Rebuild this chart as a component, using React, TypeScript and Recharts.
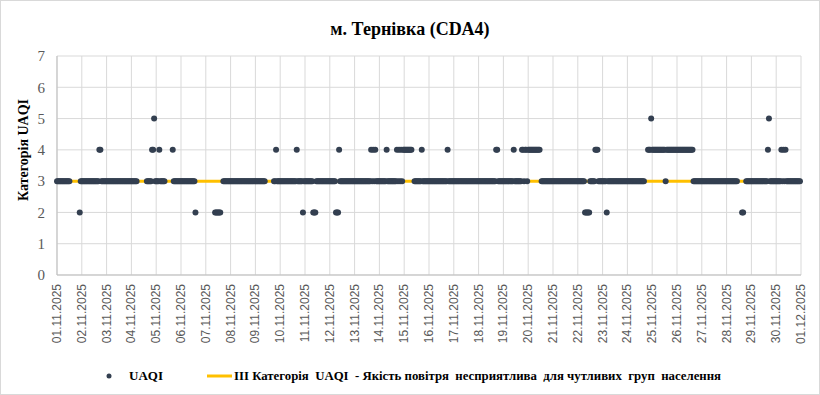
import { ScatterChart, Scatter, XAxis, YAxis, CartesianGrid } from 'recharts'

// hourly UAQI category, one string per day (24 chars), '.' = no reading
const dailyReadings = [
  '3333333333333.........23', // 01.11
  '333333333333333334433333',
  '333333333333333333333333',
  '333333.........333334453',
  '333433333.......43333333',
  '333333333333332.........',
  '.........222222..3333333',
  '333333333333333333333333',
  '3333333333........334333',
  '333333333333333343333323', // 10.11
  '333333332223333333333333',
  '333333222433333333333333',
  '333333333333333343434333',
  '333333343333333334343434',
  '44444444..33333334333333',
  '333333333333333333433333',
  '333333333333333333333333',
  '333333333333333334433333',
  '333333333343333333443443',
  '444444444444.33333333333', // 20.11
  '333333333333333333333333',
  '333333322222333334443333',
  '333323333333333333333333',
  '33333333333333333...4445',
  '444444444444434444444444',
  '444444444444444433333333',
  '333333333333333333333333',
  '33333333333....22..33333',
  '333333333333333345333333',
  '333334343433333333333333', // 30.11
]

const dateLabels = [
  '01.11.2025', '02.11.2025', '03.11.2025', '04.11.2025', '05.11.2025',
  '06.11.2025', '07.11.2025', '08.11.2025', '09.11.2025', '10.11.2025',
  '11.11.2025', '12.11.2025', '13.11.2025', '14.11.2025', '15.11.2025',
  '16.11.2025', '17.11.2025', '18.11.2025', '19.11.2025', '20.11.2025',
  '21.11.2025', '22.11.2025', '23.11.2025', '24.11.2025', '25.11.2025',
  '26.11.2025', '27.11.2025', '28.11.2025', '29.11.2025', '30.11.2025',
  '01.12.2025',
]

const yTicks = [0, 1, 2, 3, 4, 5, 6, 7]
const thresholdValue = 3
const thresholdHours = [0, 720]

const points = dailyReadings.flatMap((day, d) =>
  day
    .slice(0, 24)
    .split('')
    .map((c, k) => (c === '.' ? null : { x: d * 24 + k, y: Number(c) }))
    .filter((p): p is { x: number; y: number } => p !== null)
)

const thresholdData = thresholdHours.map((h) => ({ x: h, y: thresholdValue }))
const dayTicks = dateLabels.map((_, i) => i * 24)

const serif = '"Liberation Serif", "Times New Roman", serif'
const sans = '"Liberation Sans", Arial, sans-serif'
const dotColor = '#333f50'
const lineColor = '#ffc000'

const DateTick = (props: any) => {
  const { x, y, payload } = props
  return (
    <text
      x={x}
      y={y}
      transform={`rotate(-90 ${x} ${y})`}
      textAnchor="end"
      dominantBaseline="central"
      fontSize={12}
      fontFamily={sans}
      fill="#595959"
    >
      {dateLabels[Math.round(payload.value / 24)]}
    </text>
  )
}

const Dot = (props: any) => <circle cx={props.cx} cy={props.cy} r={3} fill={dotColor} />

export default function App() {
  return (
    <div style={{ position: 'absolute', left: 0, top: 0, width: 820, height: 395, background: '#fff' }}>
      <ScatterChart width={820} height={395} margin={{ top: 56, right: 19, bottom: 0, left: 0 }}>
        <CartesianGrid stroke="#d9d9d9" />
        <XAxis
          type="number"
          dataKey="x"
          domain={[0, 720]}
          ticks={dayTicks}
          interval={0}
          height={120}
          tick={<DateTick />}
          tickLine={false}
          tickSize={0}
          tickMargin={9}
          axisLine={{ stroke: '#bfbfbf' }}
        />
        <YAxis
          type="number"
          dataKey="y"
          domain={[0, 7]}
          ticks={yTicks}
          width={57}
          tickLine={false}
          tickSize={0}
          tickMargin={12}
          axisLine={{ stroke: '#bfbfbf' }}
          tick={{ fontSize: 15, fontFamily: serif, fill: '#595959' }}
        />
        <Scatter
          data={thresholdData}
          line={{ stroke: lineColor, strokeWidth: 3 }}
          shape={() => null}
          isAnimationActive={false}
        />
        <Scatter data={points} shape={<Dot />} isAnimationActive={false} />
      </ScatterChart>
      <svg width={820} height={395} style={{ position: 'absolute', left: 0, top: 0, pointerEvents: 'none' }}>
        <rect x={0.5} y={0.5} width={819} height={394} fill="none" stroke="#d9d9d9" />
        <text x={410} y={35} textAnchor="middle" fontFamily={serif} fontWeight="bold" fontSize={18} fill="#000">
          м. Тернівка (CDA4)
        </text>
        <text
          x={23}
          y={150}
          transform="rotate(-90 23 150)"
          textAnchor="middle"
          dominantBaseline="central"
          fontFamily={serif}
          fontWeight="bold"
          fontSize={14}
          fill="#000"
        >
          Категорія UAQI
        </text>
        <circle cx={109} cy={376} r={2.5} fill={dotColor} />
        <text x={129} y={380} fontFamily={serif} fontWeight="bold" fontSize={13} fill="#000">
          UAQI
        </text>
        <line x1={207} x2={232} y1={376} y2={376} stroke={lineColor} strokeWidth={3} />
        <text x={234} y={380} fontFamily={serif} fontWeight="bold" fontSize={12.8} fill="#000" style={{ whiteSpace: 'pre' }}>
          {'III Категорія  UAQI  - Якість повітря  несприятлива  для чутливих  груп  населення'}
        </text>
      </svg>
    </div>
  )
}
